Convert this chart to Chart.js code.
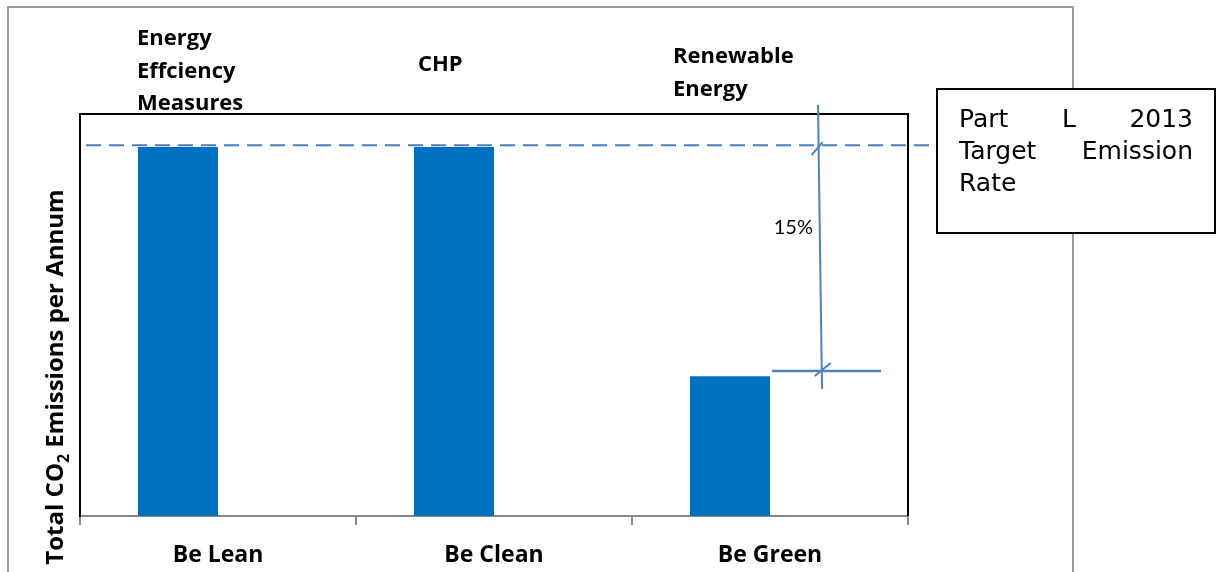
<!DOCTYPE html>
<html>
<head>
<meta charset="utf-8">
<script src="https://cdn.jsdelivr.net/npm/chart.js@4.4.1/dist/chart.umd.min.js"></script>
<style>
  html, body { margin: 0; padding: 0; background: #fff; }
  canvas { display: block; }
</style>
</head>
<body>
<canvas id="c" width="1222" height="572"></canvas>
<script>
// Stages of the energy hierarchy and their annual CO2 emissions (relative units)
const categories = ['Be Lean', 'Be Clean', 'Be Green'];
const totalEmissions = [99.5, 99.5, 37.7];
const targetEmissionRate = 100;
const greenLevel = 39.1;
const axisMax = 108.4;
const reductionLabel = '15%';
const stageHeadings = [['Energy', 'Effciency', 'Measures'], ['CHP'], ['Renewable', 'Energy']];
const targetNote = [['Part', 'L', '2013'], ['Target', 'Emission'], ['Rate']];
const axisTitle = ['Total CO', '2', ' Emissions per Annum'];

const BAR_BLUE = '#0070C0';
const LINE_BLUE = '#4A7EBB';

// draws a line of words spread across the full width (justified)
function justify(ctx, words, left, right, baseline, lastLine) {
  if (words.length === 1 || lastLine) {
    ctx.textAlign = 'left';
    ctx.fillText(words.join(' '), left, baseline);
    return;
  }
  const widths = words.map(w => ctx.measureText(w).width);
  const total = widths.reduce((s, v) => s + v, 0);
  const gap = (right - left - total) / (words.length - 1);
  let xPos = left;
  ctx.textAlign = 'left';
  words.forEach((w, i) => { ctx.fillText(w, xPos, baseline); xPos += widths[i] + gap; });
}

const overlay = {
  id: 'overlay',
  beforeDraw(chart) {
    const ctx = chart.ctx;
    ctx.save();
    ctx.fillStyle = '#fff';
    ctx.fillRect(0, 0, chart.width, chart.height);
    // outer frame of the figure
    ctx.strokeStyle = '#9b9b9b';
    ctx.lineWidth = 2;
    ctx.strokeRect(8, 7, 1065, 640);
    ctx.restore();
  },
  afterDraw(chart) {
    const { ctx, chartArea: a, scales: { x, y } } = chart;
    const bars = chart.getDatasetMeta(0).data;
    ctx.save();

    // plot area frame (top and right)
    ctx.strokeStyle = '#000';
    ctx.lineWidth = 2;
    ctx.beginPath();
    ctx.moveTo(a.left, a.top);
    ctx.lineTo(a.right, a.top);
    ctx.lineTo(a.right, a.bottom);
    ctx.stroke();

    // target emission rate (dashed)
    const yT = y.getPixelForValue(targetEmissionRate);
    ctx.strokeStyle = LINE_BLUE;
    ctx.lineWidth = 2;
    ctx.setLineDash([15, 8]);
    ctx.beginPath();
    ctx.moveTo(a.left + 6, yT);
    ctx.lineTo(a.right + 22, yT);
    ctx.stroke();
    ctx.setLineDash([]);

    // level reached after renewables
    const cx = x.getPixelForValue(2);
    const green = bars[2];
    const yG = y.getPixelForValue(greenLevel);
    ctx.strokeStyle = '#4F81BD';
    ctx.lineWidth = 2.5;
    ctx.beginPath();
    ctx.moveTo(green.x + green.width / 2 + 2, yG);
    ctx.lineTo(cx + 111, yG);
    ctx.stroke();

    // measuring line between target and achieved level
    const topY = a.top - 9, botY = yG + 18;
    const topX = cx + 48, botX = cx + 52;
    const xAt = yy => topX + (botX - topX) * (yy - topY) / (botY - topY);
    ctx.lineWidth = 2;
    ctx.beginPath();
    ctx.moveTo(topX, topY);
    ctx.lineTo(botX, botY);
    ctx.stroke();
    const xa = xAt(yT), xb = xAt(yG);
    ctx.beginPath();
    ctx.moveTo(xa - 7, yT + 10); ctx.lineTo(xa + 4, yT - 3);
    ctx.moveTo(xb - 7, yG + 5); ctx.lineTo(xb + 9, yG - 8);
    ctx.stroke();

    // percentage label
    ctx.fillStyle = '#000';
    ctx.font = '20px Lato';
    ctx.textAlign = 'right';
    ctx.textBaseline = 'alphabetic';
    ctx.fillText(reductionLabel, cx + 43, (yT + yG) / 2 - 24);

    // stage headings above the bars
    ctx.font = 'bold 22px "Open Sans"';
    const headX = [-1, 4, -17];
    const headBase = [45, 71, 63];
    stageHeadings.forEach((lines, i) => {
      const left = bars[i].x - bars[i].width / 2 + headX[i];
      ctx.textAlign = 'left';
      lines.forEach((t, j) => ctx.fillText(t, left, headBase[i] + j * 32.5));
    });

    // y axis title with subscript
    ctx.save();
    ctx.translate(63, 377);
    ctx.rotate(-Math.PI / 2);
    const big = 'bold 24px "Open Sans"', small = 'bold 16px "Open Sans"';
    ctx.font = big; const w1 = ctx.measureText(axisTitle[0]).width;
    const w3 = ctx.measureText(axisTitle[2]).width;
    ctx.font = small; const w2 = ctx.measureText(axisTitle[1]).width;
    let sx = -(w1 + w2 + w3) / 2;
    ctx.textAlign = 'left';
    ctx.font = big; ctx.fillText(axisTitle[0], sx, 0); sx += w1;
    ctx.font = small; ctx.fillText(axisTitle[1], sx, 6); sx += w2;
    ctx.font = big; ctx.fillText(axisTitle[2], sx, 0);
    ctx.restore();

    // note box for the target emission rate
    const bx = a.right + 29, by = a.top - 25, bw = 278, bh = 144;
    ctx.fillStyle = '#fff';
    ctx.fillRect(bx, by, bw, bh);
    ctx.strokeStyle = '#000';
    ctx.lineWidth = 2;
    ctx.strokeRect(bx, by, bw, bh);
    ctx.fillStyle = '#000';
    ctx.font = '25px "DejaVu Sans"';
    targetNote.forEach((words, i) => {
      justify(ctx, words, bx + 22, bx + bw - 22, by + 38 + i * 32, i === targetNote.length - 1);
    });

    ctx.restore();
  }
};

new Chart(document.getElementById('c'), {
  type: 'bar',
  data: {
    labels: categories,
    datasets: [
      { data: totalEmissions, backgroundColor: BAR_BLUE, borderWidth: 0 },
      { data: categories.map(() => null), backgroundColor: BAR_BLUE, borderWidth: 0 }
    ]
  },
  options: {
    responsive: false,
    animation: false,
    events: [],
    categoryPercentage: 0.58,
    barPercentage: 1.0,
    layout: { padding: { left: 80, top: 114, right: 314, bottom: 0 } },
    plugins: { legend: { display: false }, tooltip: { enabled: false } },
    scales: {
      x: {
        grid: { drawOnChartArea: false, drawTicks: true, tickLength: 9, color: '#878787', lineWidth: 2, offset: true },
        border: { color: '#878787', width: 2 },
        ticks: { color: '#000', font: { family: 'Open Sans', weight: 'bold', size: 23 }, padding: 17, maxRotation: 0 },
        afterFit(s) { s.height = 56; }
      },
      y: {
        min: 0,
        max: axisMax,
        grid: { display: false, drawTicks: false },
        border: { color: '#000', width: 2 },
        ticks: { display: false },
        afterFit(s) { s.width = 0; }
      }
    }
  },
  plugins: [overlay]
});
</script>
</body>
</html>
